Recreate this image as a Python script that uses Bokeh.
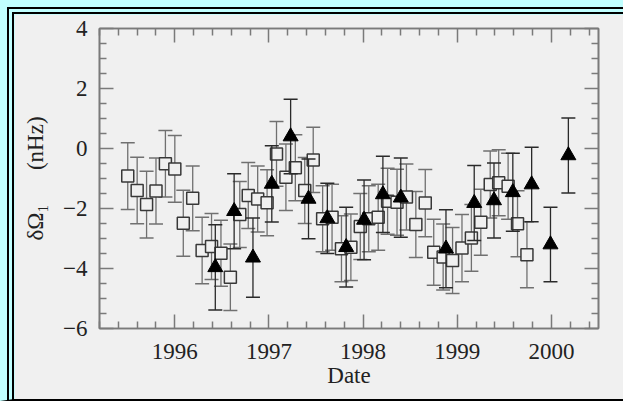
from bokeh.plotting import figure
from bokeh.models import LinearAxis, FixedTicker, Range1d
from bokeh.embed import file_html
from bokeh.resources import INLINE

# ---- data ----
sq_date = [1995.50, 1995.60, 1995.70, 1995.80, 1995.90, 1996.00, 1996.09, 1996.19, 1996.29, 1996.39,
           1996.49, 1996.59, 1996.69, 1996.78, 1996.88, 1996.98, 1997.08, 1997.18, 1997.28, 1997.38,
           1997.47, 1997.57, 1997.67, 1997.77, 1997.87, 1997.97, 1998.06, 1998.16, 1998.26, 1998.36,
           1998.46, 1998.56, 1998.66, 1998.75, 1998.85, 1998.95, 1999.05, 1999.15, 1999.25, 1999.35,
           1999.44, 1999.54, 1999.64, 1999.74]
sq_val = [-0.92, -1.40, -1.87, -1.42, -0.51, -0.68, -2.49, -1.66, -3.40, -3.27,
          -3.49, -4.29, -2.20, -1.57, -1.68, -1.81, -0.18, -0.96, -0.64, -1.40,
          -0.38, -2.34, -2.29, -3.34, -3.29, -2.60, -2.34, -2.29, -1.76, -1.79,
          -1.62, -2.53, -1.82, -3.46, -3.62, -3.73, -3.32, -2.98, -2.46, -1.20,
          -1.14, -1.26, -2.51, -3.54]
sq_err = [1.11, 1.11, 1.11, 1.10, 1.11, 1.11, 1.10, 1.08, 1.11, 1.10,
          1.10, 1.11, 1.10, 1.10, 1.10, 1.10, 1.08, 1.11, 1.10, 1.10,
          1.09, 1.10, 1.10, 1.10, 1.11, 1.10, 1.10, 1.10, 1.10, 1.10,
          1.10, 1.10, 1.12, 1.10, 1.10, 1.10, 1.12, 1.11, 1.10, 1.12,
          1.10, 1.10, 1.10, 1.10]

tri_date = [1996.43, 1996.63, 1996.83, 1997.03, 1997.23, 1997.42, 1997.62, 1997.82, 1998.01,
            1998.21, 1998.40, 1998.88, 1999.18, 1999.39, 1999.59, 1999.79, 1999.99, 2000.18]
tri_val = [-3.96, -2.09, -3.64, -1.18, 0.40, -1.68, -2.33, -3.29, -2.38,
           -1.53, -1.64, -3.34, -1.82, -1.73, -1.46, -1.20, -3.20, -0.23]
tri_err = [1.42, 1.25, 1.32, 1.27, 1.24, 1.33, 1.17, 1.33, 1.33,
           1.27, 1.32, 1.30, 1.25, 1.25, 1.30, 1.24, 1.24, 1.25]

x_ticks = [1996, 1997, 1998, 1999, 2000]
x_minor = [1995.2, 1995.4, 1995.6, 1995.8, 1996.2, 1996.4, 1996.6, 1996.8, 1997.2, 1997.4, 1997.6,
           1997.8, 1998.2, 1998.4, 1998.6, 1998.8, 1999.2, 1999.4, 1999.6, 1999.8, 2000.2, 2000.4]
y_ticks = [-6, -4, -2, 0, 2, 4]
y_tick_labels = ["\u22126", "\u22124", "\u22122", "0", "2", "4"]
y_minor = [-5.5, -5, -4.5, -3.5, -3, -2.5, -1.5, -1, -0.5, 0.5, 1, 1.5, 2.5, 3, 3.5]

x_label = "Date"
y_label = "\u03b4\u03a9\u2081\u2003\u2002(nHz)"

BG = "#f0f0f0"
CYAN = "#c0ffff"
FONT = "Liberation Serif"
FS = "23px"
AX = "#7a7a7a"

p = figure(width=623, height=401, output_backend="svg", toolbar_location=None,
           x_range=Range1d(1995.2, 2000.5), y_range=Range1d(-6, 4),
           min_border_left=85, min_border_right=39, min_border_top=14, min_border_bottom=87,
           background_fill_color=BG, border_fill_color=BG)
p.grid.visible = False
p.outline_line_color = AX
p.outline_line_width = 1.6

xt = FixedTicker(ticks=x_ticks, minor_ticks=x_minor)
yt = FixedTicker(ticks=y_ticks, minor_ticks=y_minor)


def style_axis(ax, labels=True):
    ax.axis_line_color = AX
    ax.axis_line_width = 1.6
    ax.major_tick_line_color = AX
    ax.minor_tick_line_color = AX
    ax.major_tick_line_width = 1.5
    ax.minor_tick_line_width = 1.5
    ax.major_tick_in = 14
    ax.major_tick_out = 0
    ax.minor_tick_in = 7
    ax.minor_tick_out = 0
    ax.major_label_text_font = FONT
    ax.axis_label_text_font = FONT
    ax.axis_label_text_font_style = "normal"
    ax.axis_label_text_color = "#222222"
    if labels:
        ax.major_label_text_color = "#222222"
        ax.major_label_text_font_size = FS
        ax.axis_label_text_font_size = FS
    else:
        ax.major_label_text_color = None
        ax.major_label_text_font_size = "1px"
        ax.major_label_standoff = 0


p.xaxis.ticker = xt
p.yaxis.ticker = yt
style_axis(p.xaxis[0])
style_axis(p.yaxis[0])
p.xaxis.axis_label = x_label
p.yaxis.axis_label = y_label
p.xaxis.major_label_standoff = 15
p.xaxis.axis_label_standoff = 1
p.yaxis.major_label_standoff = 12
p.yaxis.axis_label_standoff = 12
p.yaxis.major_label_overrides = dict(zip(y_ticks, y_tick_labels))

top = LinearAxis(ticker=xt)
right = LinearAxis(ticker=yt)
style_axis(top, labels=False)
style_axis(right, labels=False)
p.add_layout(top, "above")
p.add_layout(right, "right")

# squares: error bars
sq_lo = [v - e for v, e in zip(sq_val, sq_err)]
sq_hi = [v + e for v, e in zip(sq_val, sq_err)]
p.segment(sq_date, sq_lo, sq_date, sq_hi, line_color="#707070", line_width=1.3)
p.scatter(sq_date, sq_lo, marker="dash", size=14, line_color="#707070", line_width=1.5)
p.scatter(sq_date, sq_hi, marker="dash", size=14, line_color="#707070", line_width=1.5)
p.scatter(sq_date, sq_val, marker="square", size=12, fill_color=BG,
          line_color="#383838", line_width=1.5)

# triangles: error bars
tri_lo = [v - e for v, e in zip(tri_val, tri_err)]
tri_hi = [v + e for v, e in zip(tri_val, tri_err)]
p.segment(tri_date, tri_lo, tri_date, tri_hi, line_color="#2a2a2a", line_width=1.3)
p.scatter(tri_date, tri_lo, marker="dash", size=14, line_color="#2a2a2a", line_width=1.5)
p.scatter(tri_date, tri_hi, marker="dash", size=14, line_color="#2a2a2a", line_width=1.5)
p.scatter(tri_date, tri_val, marker="triangle", size=15, fill_color="black", line_color="black")

# page frame: cyan band, then a double black rule (painted in the element's border area)
solid = "linear-gradient(#000000, #000000)"
p.styles = {
    "box-sizing": "border-box",
    "border-left": "14px solid transparent",
    "border-top": "14px solid transparent",
    "border-bottom": "2px solid #000000",
    "background-color": CYAN,
    "background-origin": "border-box",
    "background-clip": "border-box",
    "background-repeat": "no-repeat",
    "background-image": ", ".join([solid] * 4),
    "background-size": "2px 100%, 2px 100%, 100% 2px, 100% 2px",
    "background-position": "7px 7px, 12px 12px, 7px 7px, 12px 12px",
}

open("out.html", "w").write(file_html(p, INLINE))
